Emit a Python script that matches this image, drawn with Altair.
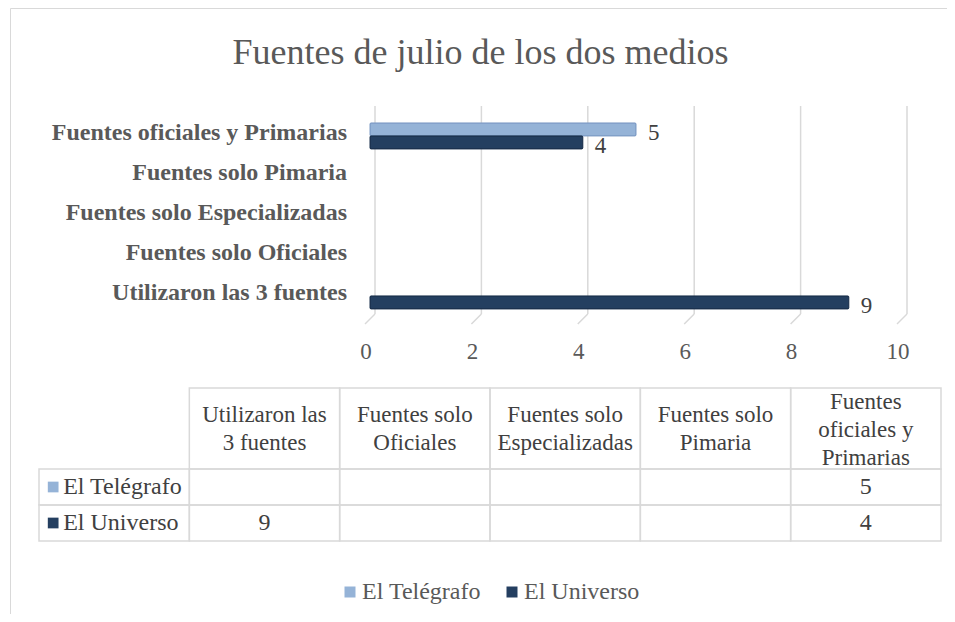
import altair as alt
import pandas as pd

# ---------------- data ----------------
title_text = "Fuentes de julio de los dos medios"
categories = [
    "Utilizaron las 3 fuentes",
    "Fuentes solo Oficiales",
    "Fuentes solo Especializadas",
    "Fuentes solo Pimaria",
    "Fuentes oficiales y Primarias",
]
header_labels = [
    "Utilizaron las\n3 fuentes",
    "Fuentes solo\nOficiales",
    "Fuentes solo\nEspecializadas",
    "Fuentes solo\nPimaria",
    "Fuentes\noficiales y\nPrimarias",
]
series = ["El Telégrafo", "El Universo"]
telegrafo = [None, None, None, None, 5]
universo = [9, None, None, None, 4]
x_ticks = [0, 2, 4, 6, 8, 10]
colors = ["#95B3D7", "#243F60"]
edge_colors = ["#7D9BC5", "#1A304C"]

# ---------------- tables built from the lists ----------------
rows = []
for s, vals in zip(series, [telegrafo, universo]):
    for c, v in zip(categories, vals):
        rows.append({"serie": s, "categoria": c, "valor": v})
df = pd.DataFrame(rows)
df_cat = pd.DataFrame({"categoria": categories})
df_head = pd.DataFrame({"categoria": categories, "head": header_labels})
df_ticks = pd.DataFrame({"t": x_ticks})
df_series = pd.DataFrame({"serie": series, "col": ["__serie__"] * len(series)})
df_title = pd.DataFrame({"t": [title_text]})
df_one = pd.DataFrame({"a": [0]})

FONT = "Liberation Serif"
GRID = "#D9D9D9"

# ---------------- scales ----------------
xs = alt.Scale(domain=[0, 10], range=[362, 894], nice=False, zero=True)
ys = alt.Scale(domain=categories[::-1], range=[105, 305], paddingInner=0, paddingOuter=0)
yoff = alt.Scale(domain=series, paddingInner=0, paddingOuter=0.54, align=0.71)
cscale = alt.Scale(domain=series, range=colors)
sscale = alt.Scale(domain=series, range=edge_colors)

leg = alt.Legend(
    orient="none", legendX=330, legendY=572, direction="horizontal", title=None,
    symbolType="square", symbolSize=121, symbolStrokeWidth=0,
    labelFont=FONT, labelFontSize=24, labelColor="#595959", labelOffset=0,
    columnPadding=19, padding=0, labelLimit=300,
)

# ---------------- bar chart group ----------------
grid = alt.Chart(df_ticks).mark_rule(color=GRID, strokeWidth=1.5, xOffset=5).encode(
    x=alt.X("t:Q", scale=xs, axis=None),
    y=alt.value(98), y2=alt.value(306),
)
grid_slant = alt.Chart(df_ticks).mark_rule(color=GRID, strokeWidth=1.5, xOffset=5, x2Offset=-5).encode(
    x=alt.X("t:Q", scale=xs, axis=None), x2="t:Q",
    y=alt.value(306), y2=alt.value(316),
)
bars = alt.Chart(df).transform_filter("isValid(datum.valor)").mark_bar(
    cornerRadius=1, strokeWidth=1
).encode(
    x=alt.X("valor:Q", scale=xs, axis=None),
    y=alt.Y("categoria:N", scale=ys, axis=None, sort=categories[::-1]),
    yOffset=alt.YOffset("serie:N", scale=yoff),
    color=alt.Color("serie:N", scale=cscale, legend=leg),
    stroke=alt.Stroke("serie:N", scale=sscale, legend=None),
)
bar_labels = alt.Chart(df).transform_filter("isValid(datum.valor)").mark_text(
    align="left", baseline="alphabetic", dx=12, dy=11, font=FONT, fontSize=23, color="#404040"
).encode(
    x=alt.X("valor:Q", scale=xs, axis=None),
    y=alt.Y("categoria:N", scale=ys, axis=None, sort=categories[::-1]),
    yOffset=alt.YOffset("serie:N", scale=yoff),
    text=alt.Text("valor:Q", format="d"),
)
y_labels = alt.Chart(df_cat).mark_text(
    align="right", baseline="middle", font=FONT, fontSize=24, fontWeight="bold", color="#595959"
).encode(
    y=alt.Y("categoria:N", scale=ys, axis=None, sort=categories[::-1]),
    x=alt.value(339),
    text="categoria:N",
)
x_labels = alt.Chart(df_ticks).mark_text(
    align="center", baseline="alphabetic", dx=-4, font=FONT, fontSize=23, color="#595959"
).encode(
    x=alt.X("t:Q", scale=xs, axis=None),
    y=alt.value(351),
    text=alt.Text("t:Q", format="d"),
)
bar_group = alt.layer(grid, grid_slant, bars, bar_labels, y_labels, x_labels)

# ---------------- data table group ----------------
tx = alt.Scale(domain=["__serie__"] + categories, range=[31, 933], paddingInner=0, paddingOuter=0)
ty = alt.Scale(domain=series, range=[461, 533], paddingInner=0, paddingOuter=0)

cells = alt.Chart(df).mark_rect(fillOpacity=0, stroke=GRID, strokeWidth=1.5).encode(
    x=alt.X("categoria:N", scale=tx, axis=None),
    y=alt.Y("serie:N", scale=ty, axis=None),
)
row_cells = alt.Chart(df_series).mark_rect(fillOpacity=0, stroke=GRID, strokeWidth=1.5).encode(
    x=alt.X("col:N", scale=tx, axis=None),
    y=alt.Y("serie:N", scale=ty, axis=None),
)
head_cells = alt.Chart(df_head).mark_rect(fillOpacity=0, stroke=GRID, strokeWidth=1.5).encode(
    x=alt.X("categoria:N", scale=tx, axis=None),
    y=alt.value(380), y2=alt.value(461),
)


def head_layer(n_lines, y_first):
    return alt.Chart(df_head).transform_calculate(
        n="split(datum.head, '\\n').length"
    ).transform_filter(f"datum.n == {n_lines}").mark_text(
        baseline="middle", align="center", lineBreak="\n", lineHeight=28,
        font=FONT, fontSize=23, color="#404040"
    ).encode(
        x=alt.X("categoria:N", scale=tx, axis=None),
        y=alt.value(y_first),
        text="head:N",
    )


head_text2 = head_layer(2, 407)
head_text3 = head_layer(3, 394)

val_text = alt.Chart(df).transform_filter("isValid(datum.valor)").mark_text(
    baseline="middle", align="center", font=FONT, fontSize=24, color="#404040"
).encode(
    x=alt.X("categoria:N", scale=tx, axis=None),
    y=alt.Y("serie:N", scale=ty, axis=None),
    text=alt.Text("valor:Q", format="d"),
)
row_sq = alt.Chart(df_series).mark_square(size=115, opacity=1, xOffset=-61).encode(
    x=alt.X("col:N", scale=tx, axis=None),
    y=alt.Y("serie:N", scale=ty, axis=None),
    color=alt.Color("serie:N", scale=cscale, legend=leg),
)
row_text = alt.Chart(df_series).mark_text(
    align="left", baseline="middle", dx=-51, font=FONT, fontSize=24, color="#404040"
).encode(
    x=alt.X("col:N", scale=tx, axis=None),
    y=alt.Y("serie:N", scale=ty, axis=None),
    text="serie:N",
)
table_group = alt.layer(cells, row_cells, head_cells, head_text2, head_text3,
                        val_text, row_sq, row_text)

# ---------------- title & frame ----------------
title = alt.Chart(df_title).mark_text(
    align="center", baseline="alphabetic", font=FONT, fontSize=36, color="#595959"
).encode(x=alt.value(472.5), y=alt.value(56), text="t:N")
frame = alt.Chart(df_one).mark_rect(fillOpacity=0, stroke=GRID, strokeWidth=1).encode(
    x=alt.value(2.5), y=alt.value(0.5), x2=alt.value(1500), y2=alt.value(1500)
)

chart = alt.layer(frame, title, bar_group, table_group).resolve_scale(
    x="independent", y="independent"
).properties(
    width=939, height=606, padding=0,
    autosize=alt.AutoSizeParams(type="none"),
    background="white",
).configure_view(stroke=None)

chart.save("out.html", embed_options={"renderer": "svg", "actions": False})
